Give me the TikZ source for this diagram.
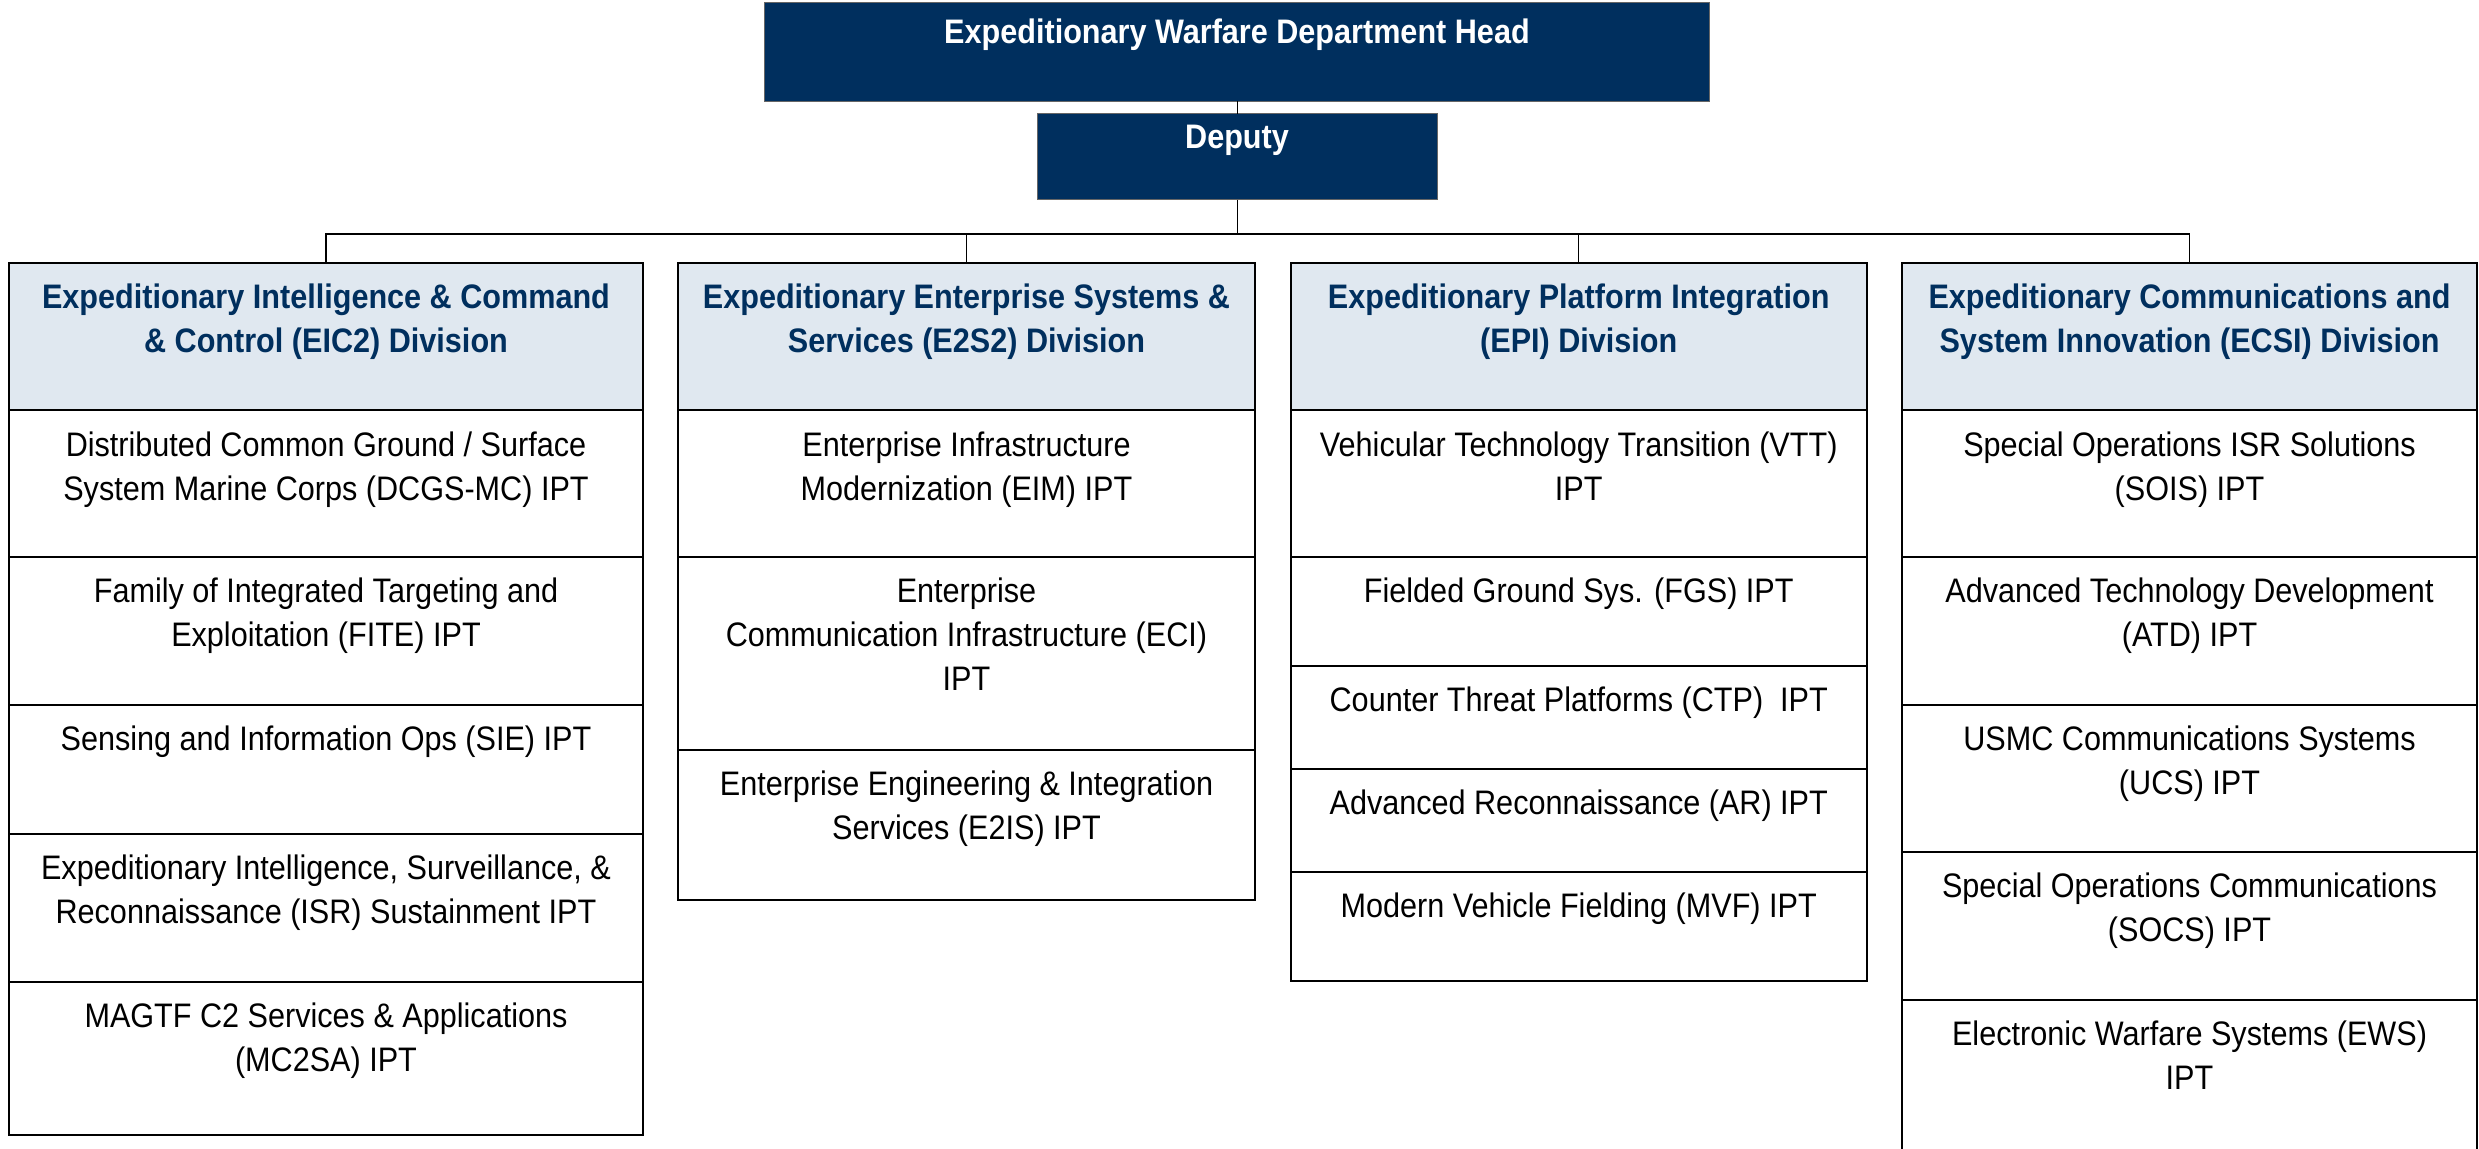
\documentclass[tikz,border=0pt]{standalone}
\usepackage{fontspec}
\setmainfont{Liberation Sans}[FakeStretch=0.9]
\definecolor{navy}{RGB}{0,47,94}
\definecolor{hdrfill}{RGB}{224,232,240}
\tikzset{
  topbox/.style={draw=black!60, line width=0.5pt, fill=navy, rectangle, inner sep=0pt, outer sep=0pt, anchor=north west},
  hdrbox/.style={draw=black, line width=1pt, fill=hdrfill, rectangle, inner sep=0pt, outer sep=0pt, anchor=north west},
  cellbox/.style={draw=black, line width=1pt, fill=white, rectangle, inner sep=0pt, outer sep=0pt, anchor=north west},
  toptext/.style={anchor=north, align=center, inner sep=0pt, text=white, font=\fontsize{17}{22}\selectfont\bfseries},
  hdrtext/.style={anchor=north, align=center, inner sep=0pt, text=navy, font=\fontsize{17}{22}\selectfont\bfseries},
  celltext/.style={anchor=north, align=center, inner sep=0pt, text=black, font=\fontsize{17}{22}\selectfont},
  conn/.style={draw=black, line width=0.6pt}
}
% #1 name, #2 box style, #3 x1, #4 y1, #5 x2, #6 y2, #7 text style, #8 offset (pt), #9 text
\newcommand\mkcell[9]{%
  \node[#2, minimum width={(#5-#3)*0.5pt}, minimum height={(#6-#4)*0.5pt}] (#1) at (#3,#4) {};
  \node[#7] (#1-t) at ([yshift=-#8]#1.north) {\strut #9};
}
\begin{document}
\begin{tikzpicture}[x=0.5pt, y=-0.5pt]
\useasboundingbox (0,0) rectangle (2479,1149);
\clip (0,0) rectangle (2479,1149);
\fill[white] (0,0) rectangle (2479,1149);

% top boxes
\mkcell{head}{topbox}{764.5}{3}{1709.5}{101.5}{toptext}{4.9pt}{Expeditionary Warfare Department Head}
\mkcell{dep}{topbox}{1037}{114}{1437}{200}{toptext}{1.75pt}{Deputy}

% EIC2
\mkcell{ah}{hdrbox}{9}{263}{643}{410.5}{hdrtext}{7.25pt}{Expeditionary Intelligence \& Command\\ \& Control (EIC2) Division}
\mkcell{a1}{cellbox}{9}{410.5}{643}{557}{celltext}{7.35pt}{Distributed Common Ground / Surface\\System Marine Corps (DCGS-MC) IPT}
\mkcell{a2}{cellbox}{9}{557}{643}{704.5}{celltext}{7.35pt}{Family of Integrated Targeting and\\Exploitation (FITE) IPT}
\mkcell{a3}{cellbox}{9}{704.5}{643}{834}{celltext}{7.35pt}{Sensing and Information Ops (SIE) IPT}
\mkcell{a4}{cellbox}{9}{834}{643}{981.5}{celltext}{7.35pt}{Expeditionary Intelligence, Surveillance, \&\\Reconnaissance (ISR) Sustainment IPT}
\mkcell{a5}{cellbox}{9}{981.5}{643}{1135}{celltext}{7.35pt}{MAGTF C2 Services \& Applications\\(MC2SA) IPT}

% E2S2
\mkcell{bh}{hdrbox}{678}{263}{1255}{410.5}{hdrtext}{7.25pt}{Expeditionary Enterprise Systems \&\\Services (E2S2) Division}
\mkcell{b1}{cellbox}{678}{410.5}{1255}{557}{celltext}{7.35pt}{Enterprise Infrastructure\\Modernization (EIM) IPT}
\mkcell{b2}{cellbox}{678}{557}{1255}{749.5}{celltext}{7.35pt}{Enterprise\\Communication Infrastructure (ECI)\\IPT}
\mkcell{b3}{cellbox}{678}{749.5}{1255}{900}{celltext}{7.35pt}{Enterprise Engineering \& Integration\\Services (E2IS) IPT}

% EPI
\mkcell{ch}{hdrbox}{1290.5}{263}{1867}{410.5}{hdrtext}{7.25pt}{Expeditionary Platform Integration\\(EPI) Division}
\mkcell{c1}{cellbox}{1290.5}{410.5}{1867}{557}{celltext}{7.35pt}{Vehicular Technology Transition (VTT)\\IPT}
\mkcell{c2}{cellbox}{1290.5}{557}{1867}{666}{celltext}{7.35pt}{Fielded Ground Sys. (FGS) IPT}
\mkcell{c3}{cellbox}{1290.5}{666}{1867}{769}{celltext}{7.35pt}{Counter Threat Platforms (CTP)\ \ IPT}
\mkcell{c4}{cellbox}{1290.5}{769}{1867}{871.5}{celltext}{7.35pt}{Advanced Reconnaissance (AR) IPT}
\mkcell{c5}{cellbox}{1290.5}{871.5}{1867}{980.5}{celltext}{7.35pt}{Modern Vehicle Fielding (MVF) IPT}

% ECSI
\mkcell{dh}{hdrbox}{1902}{263}{2477}{410.5}{hdrtext}{7.25pt}{Expeditionary Communications and\\System Innovation (ECSI) Division}
\mkcell{d1}{cellbox}{1902}{410.5}{2477}{557}{celltext}{7.35pt}{Special Operations ISR Solutions\\(SOIS) IPT}
\mkcell{d2}{cellbox}{1902}{557}{2477}{704.5}{celltext}{7.35pt}{Advanced Technology Development\\(ATD) IPT}
\mkcell{d3}{cellbox}{1902}{704.5}{2477}{852}{celltext}{7.35pt}{USMC Communications Systems\\(UCS) IPT}
\mkcell{d4}{cellbox}{1902}{852}{2477}{1000}{celltext}{7.35pt}{Special Operations Communications\\(SOCS) IPT}
\mkcell{d5}{cellbox}{1902}{1000}{2477}{1170}{celltext}{7.35pt}{Electronic Warfare Systems (EWS)\\IPT}

% connectors
\coordinate (bus) at (1237.5,234);
\draw[conn] (dep.north -| bus) -- (head.south -| bus);
\draw[conn] (dep.south -| bus) -- (bus);
\draw[conn] (ah.north) |- (bus);
\draw[conn] (bh.north) |- (bus);
\draw[conn] (ch.north) |- (bus);
\draw[conn] (dh.north) |- (bus);
\end{tikzpicture}
\end{document}
